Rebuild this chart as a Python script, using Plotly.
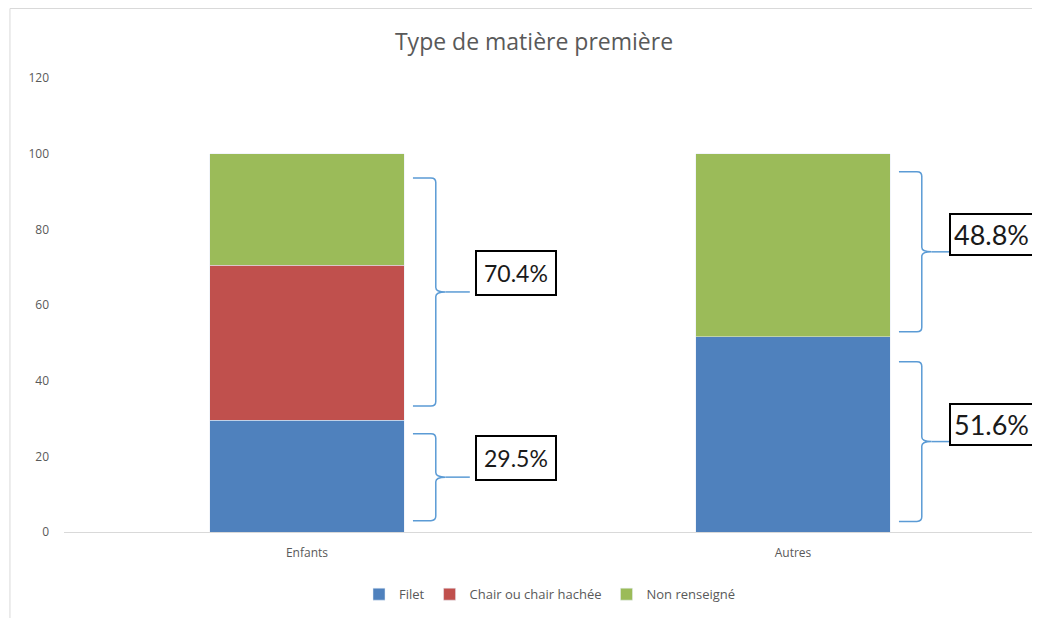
import plotly.graph_objects as go

categories = ["Enfants", "Autres"]
filet = [29.5, 51.6]
chair = [41.0, 0.0]
non_renseigne = [29.5, 48.4]

# brace annotations: (category index, bottom, top, label)
braces = [
    (0, 3.0, 26.0, "29.5%"),
    (0, 33.3, 93.6, "70.4%"),
    (1, 2.8, 45.0, "51.6%"),
    (1, 52.9, 95.2, "48.8%"),
]

GREY = "#595959"

fig = go.Figure()
fig.add_bar(x=categories, y=filet, name="Filet", marker_color="#4f81bd")
fig.add_bar(x=categories, y=chair, name="Chair ou chair hachée", marker_color="#c0504d")
fig.add_bar(x=categories, y=non_renseigne, name="Non renseigné", marker_color="#9bbb59")


def brace_path(xc, y0, y1):
    left, vert, cusp = xc + 0.218, xc + 0.265, xc + 0.285
    mid = (y0 + y1) / 2
    r = 1.2
    return (f"M {left},{y1} L {vert - 0.01},{y1} Q {vert},{y1} {vert},{y1 - r} "
            f"L {vert},{mid + r} Q {vert},{mid} {cusp},{mid} "
            f"Q {vert},{mid} {vert},{mid - r} L {vert},{y0 + r} "
            f"Q {vert},{y0} {vert - 0.01},{y0} L {left},{y0}")


for i, (xc, y0, y1, label) in enumerate(braces):
    mid = (y0 + y1) / 2
    fig.add_shape(type="path", xref="x", yref="y", path=brace_path(xc, y0, y1),
                  line=dict(color="#5b9bd5", width=1.5))
    fig.add_shape(type="line", xref="x", yref="y", x0=xc + 0.285, x1=xc + 0.335,
                  y0=mid, y1=mid, line=dict(color="#5b9bd5", width=1.5))
    big = xc == 1
    fig.add_annotation(x=xc + (0.32 if big else 0.345), y=mid + (4.5 if big else 5),
                       xref="x", yref="y", text=label, showarrow=False,
                       xanchor="left", yanchor="middle",
                       font=dict(family="Liberation Sans Narrow, Lato, sans-serif",
                                 size=27 if big else 23, color="#1a1a1a"),
                       bordercolor="#000000", borderwidth=2, borderpad=3 if big else 7,
                       bgcolor="white")

# outer chart frame
fig.add_shape(type="rect", xref="paper", yref="paper", x0=-0.0556, x1=1.05,
              y0=-0.25, y1=1 + 69.5 / 454, line=dict(color="#d9d9d9", width=1),
              layer="below")

fig.update_layout(
    barmode="stack",
    bargap=0.6,
    width=1032, height=610,
    margin=dict(l=56, r=4, t=70, b=86),
    paper_bgcolor="white", plot_bgcolor="white",
    font=dict(family="Open Sans, Noto Sans, sans-serif", color=GREY, size=12),
    title=dict(text="Type de matière première", x=526 / 1032, xanchor="center",
               y=1 - 34 / 610, yanchor="middle",
               font=dict(size=23, color=GREY, family="Open Sans, Noto Sans, sans-serif")),
    legend=dict(orientation="h", x=0.5, xanchor="center", y=-0.137, yanchor="middle",
                font=dict(size=13, color=GREY), itemwidth=30, traceorder="normal"),
    showlegend=True,
)
fig.update_xaxes(showline=True, linecolor="#d9d9d9", linewidth=1, ticks="",
                 tickfont=dict(size=12, color=GREY), showgrid=False,
                 ticklabelstandoff=10)
fig.update_yaxes(range=[0, 120], dtick=20, showgrid=False, zeroline=False,
                 tickfont=dict(size=12, color=GREY), ticklabelstandoff=14)

fig.write_html("out.html")
